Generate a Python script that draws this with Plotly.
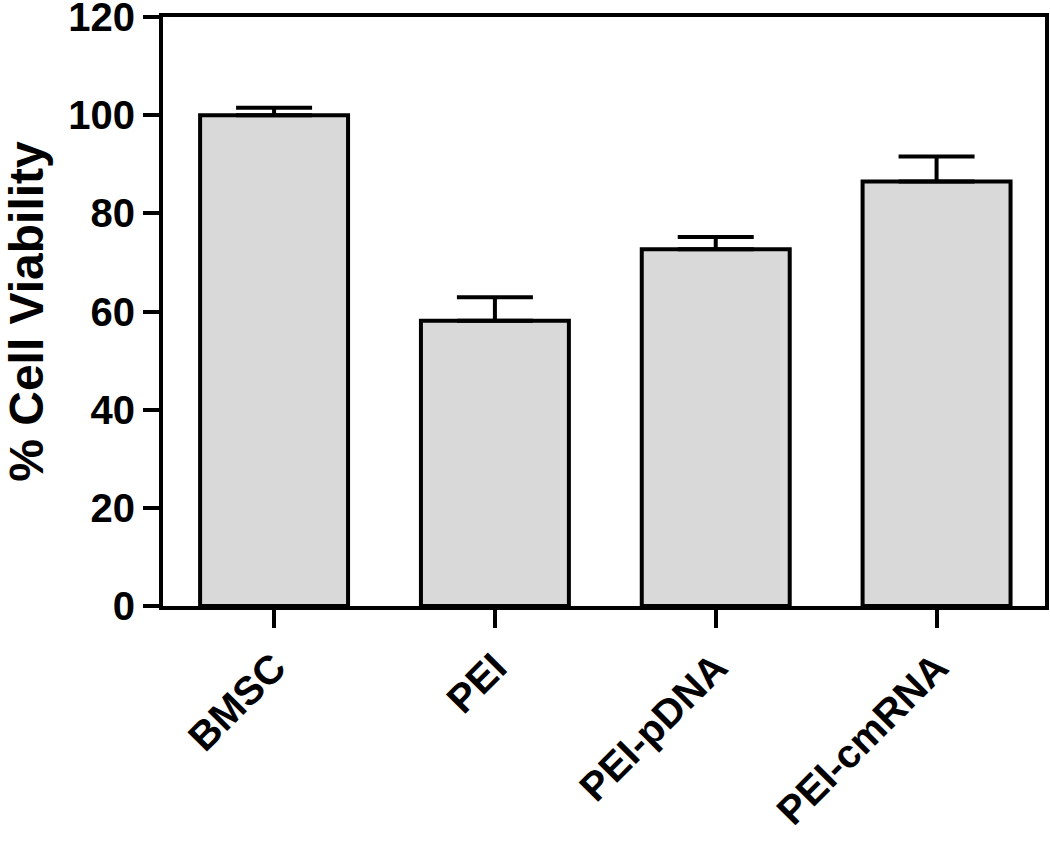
import plotly.graph_objects as go

categories = ["BMSC", "PEI", "PEI-pDNA", "PEI-cmRNA"]
viability = [100.0, 58.1, 72.7, 86.5]
error_up = [1.5, 4.8, 2.5, 5.1]
y_ticks = [0, 20, 40, 60, 80, 100, 120]

FONT = "Liberation Sans, Arial, Helvetica, sans-serif"

fig = go.Figure()
fig.add_trace(go.Bar(
    x=list(range(len(categories))),
    y=viability,
    width=0.67,
    marker=dict(color="#d9d9d9", line=dict(color="black", width=4)),
    error_y=dict(type="data", symmetric=False, array=error_up,
                 arrayminus=[0] * len(error_up),
                 color="black", thickness=4, width=38),
))

fig.update_layout(
    width=1050, height=843,
    margin=dict(l=163, r=5, t=17, b=237),
    paper_bgcolor="white", plot_bgcolor="white",
    showlegend=False,
    font=dict(family=FONT, color="black", size=40, weight="bold"),
)
fig.update_xaxes(
    range=[-0.503, 3.491], automargin=False,
    tickmode="array", tickvals=list(range(len(categories))), ticktext=categories,
    tickangle=-45, ticks="outside", ticklen=18, tickwidth=4, tickcolor="black",
    showline=True, linewidth=4, linecolor="black", mirror=True,
    showgrid=False, zeroline=False, ticklabeloverflow="allow",
    tickfont=dict(family=FONT, size=40, weight="bold", color="black"),
)
fig.update_yaxes(
    range=[0, 120], automargin=False,
    tickmode="array", tickvals=y_ticks,
    ticks="outside", ticklen=16, tickwidth=4, tickcolor="black",
    showline=True, linewidth=4, linecolor="black", mirror=True,
    showgrid=False, zeroline=False, ticklabeloverflow="allow",
    tickfont=dict(family=FONT, size=40, weight="bold", color="black"),
    title=dict(text="% Cell Viability", standoff=32,
               font=dict(family=FONT, size=48, weight="bold", color="black")),
)

fig.write_html(
    "out.html",
    config={"displayModeBar": False},
    post_script="document.body.style.margin='0';document.body.style.overflow='hidden';",
)
